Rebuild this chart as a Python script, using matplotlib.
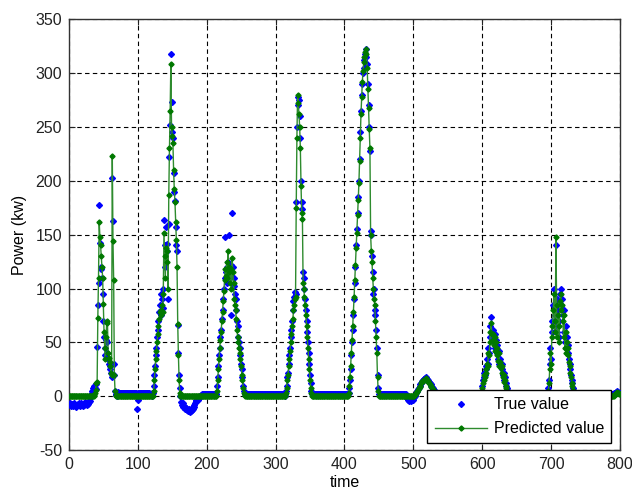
import numpy as np
import matplotlib
matplotlib.use('Agg')
import matplotlib.pyplot as plt

plt.rcParams['font.family'] = ['Liberation Sans', 'DejaVu Sans']
plt.rcParams['axes.unicode_minus'] = False

# 功率真实值与预测值（按时间段拼接，时间步长为1）
true_a = [-6, -8, -9, -7, -8, -9, -6, -7, -8, -9, -10, -8, -7, -6, -8,
          -9, -7, -6, -8, -7, -9, -8, -6, -5, -7, -8, -6, -7, -5, -4]
pred_a = [0] * 30

true_p1 = [-2, 1, 3, 5, 8, 9, 10, 8, 7, 11,
           46, 85, 105, 178, 142, 120, 118, 110, 95, 70,
           55, 45, 38, 52, 40, 50, 35, 30, 28, 25,
           22, 18, 203, 163, 30, 20, 5, 2, 1, 0]
pred_p1 = [0, 0, 0, 0, 0, 0, 1, 3, 6, 12,
           13, 73, 110, 162, 148, 140, 130, 120, 110, 86,
           60, 45, 35, 55, 70, 68, 40, 36, 32, 28,
           22, 20, 223, 144, 108, 20, 5, 1, 0, 0]

true_c = [4, 2] + [3] * 26 + [-12, -3] + [3] * 17 + [2, 2, 3]
pred_c = [0] * 50

true_p2 = [0, 3, 10, 20, 28, 38, 45, 55, 62, 70,
           78, 85, 95, 75, 90, 82, 100, 164, 140, 120,
           157, 135, 141, 90, 160, 222, 252, 318, 273, 245,
           240, 207, 190, 181, 157, 140, 135, 66, 40, 20,
           8, 0, -5, -8, -10]
pred_p2 = [0, 0, 5, 15, 25, 35, 42, 50, 58, 65,
           72, 78, 80, 75, 85, 78, 95, 152, 130, 110,
           138, 125, 135, 100, 187, 230, 265, 308, 250, 242,
           235, 210, 192, 180, 162, 145, 120, 67, 38, 15,
           3, 0, 0, 0, 0]

true_e = [-6, -9, -10, -12, -11, -13, -12, -14, -13, -12,
          -15, -14, -13, -11, -12, -10, -8, -6, -4, -3,
          -3, -2, -3, -2, -1]
pred_e = [0] * 25

true_f = [0, 1] + [2] * 21
pred_f = [0] * 23

true_p3 = [2, 10, 18, 28, 38, 45, 55, 62, 72, 80,
           90, 100, 110, 148, 115, 120, 105, 125, 118, 150,
           112, 122, 75, 170, 120, 110, 102, 95, 90, 80,
           70, 65, 55, 50, 45, 38, 30, 25, 18, 10,
           5, 3, 2, 2, 2]
pred_p3 = [0, 5, 15, 25, 35, 45, 52, 60, 70, 78,
           88, 98, 108, 118, 112, 125, 110, 135, 120, 115,
           105, 118, 100, 128, 115, 105, 90, 85, 80, 72,
           62, 55, 50, 45, 40, 35, 28, 20, 15, 8,
           3, 1, 0, 0, 0]

true_h = [2] * 54
pred_h = [0] * 54

true_p4 = [0, 2, 5, 10, 18, 22, 30, 38, 45, 55,
           62, 70, 80, 88, 92, 97, 95, 180, 250, 278,
           270, 275, 260, 240, 200, 180, 174, 115, 110, 100,
           90, 80, 70, 60, 50, 40, 30, 20, 12, 5,
           2, 2, 2]
pred_p4 = [0, 0, 3, 8, 15, 20, 28, 35, 42, 50,
           58, 65, 72, 80, 85, 90, 92, 175, 240, 280,
           272, 262, 250, 230, 195, 170, 165, 105, 100, 92,
           85, 75, 65, 55, 45, 35, 25, 15, 8, 3,
           0, 0, 0]

true_j = [2] * 49
pred_j = [0] * 49

true_p5 = [2, 3, 8, 15, 25, 38, 50, 62, 75, 90,
           105, 120, 140, 155, 170, 185, 200, 220, 245, 265,
           280, 290, 300, 312, 305, 318, 322, 315, 308, 290,
           270, 250, 228, 153, 150, 130, 115, 95, 100, 80,
           75, 62, 45, 20, 8, 2, 2, 2]
pred_p5 = [0, 3, 10, 18, 28, 40, 52, 65, 78, 92,
           108, 122, 138, 152, 168, 182, 198, 218, 240, 262,
           278, 292, 302, 310, 315, 320, 322, 318, 305, 285,
           268, 248, 230, 150, 135, 125, 110, 100, 90, 85,
           70, 55, 40, 18, 5, 0, 0, 0]

true_l = [2] * 37
pred_l = [0] * 37

true_m = [-1, -2, -3, -3, -4, -3, -4, -3, -2, -3, -2, -1, 0, 1, 3, 5,
          5, 7, 8, 10, 11, 12, 13, 14, 15, 16,
          16, 17, 18, 17, 16, 15, 14, 13, 12, 11,
          10, 9, 8, 7, 6, 5, 4, 3, 2, 2] + [2] * 10
pred_m = [0] * 12 + [1, 2, 3, 4,
          5, 6, 8, 9, 10, 12, 13, 14, 14, 15,
          15, 16, 17, 16, 15, 14, 13, 12, 11, 10,
          9, 8, 7, 6, 5, 4, 3, 2, 1, 0] + [0] * 10

true_n = [2] * 52
pred_n = [0] * 52

true_p6 = [2, 5, 10, 15, 18, 22, 20, 28, 25, 35,
           30, 45, 40, 55, 65, 74, 60, 55, 62, 50,
           58, 45, 52, 40, 48, 35, 42, 30, 35, 28,
           25, 30, 20, 22, 15, 18, 10, 12, 8, 5,
           3, 2, 2, 2, 2]
pred_p6 = [0, 3, 8, 12, 15, 20, 18, 25, 22, 30,
           28, 40, 38, 50, 60, 68, 58, 52, 58, 48,
           55, 42, 50, 38, 45, 33, 40, 28, 32, 26,
           22, 28, 18, 20, 13, 15, 8, 10, 5, 3,
           1, 0, 0, 0, 0]

true_pp = [2] * 52
pred_pp = [0] * 52

true_p7 = [2, 8, 15, 30, 45, 35, 60, 70, 85, 100,
           75, 65, 140, 90, 60, 80, 55, 70, 95, 100,
           85, 90, 75, 60, 80, 50, 65, 45, 55, 40,
           48, 35, 30, 25, 20, 15, 12, 8, 5, 3,
           2, 2, 2, 2, 2, 2]
pred_p7 = [0, 5, 12, 25, 40, 30, 55, 65, 80, 95,
           70, 60, 148, 85, 55, 75, 50, 65, 88, 95,
           80, 85, 70, 55, 75, 45, 60, 40, 50, 38,
           45, 32, 28, 22, 18, 12, 10, 6, 3, 1,
           0, 0, 0, 0, 0, 0]

true_r = [2] * 50 + [2, 3, 3, 4, 4, 5, 4, 3, 3, 3]
pred_r = [0] * 50 + [0, 1, 2, 3, 3, 4, 3, 3, 2, 2]

true_val = np.array(true_a + true_p1 + true_c + true_p2 + true_e + true_f + true_p3 + true_h +
                    true_p4 + true_j + true_p5 + true_l + true_m + true_n + true_p6 + true_pp +
                    true_p7 + true_r, dtype=float)
pred_val = np.array(pred_a + pred_p1 + pred_c + pred_p2 + pred_e + pred_f + pred_p3 + pred_h +
                    pred_p4 + pred_j + pred_p5 + pred_l + pred_m + pred_n + pred_p6 + pred_pp +
                    pred_p7 + pred_r, dtype=float)
time = np.arange(1, len(true_val) + 1)

fig = plt.figure(figsize=(6.32, 4.92), dpi=100)
ax = fig.add_axes([0.109, 0.085, 0.872, 0.876])

ax.plot(time, true_val, linestyle='none', marker='D', markersize=3,
        color='#0000ff', label='True value', zorder=3)
ax.plot(time, pred_val, color='#2e8b2e', linewidth=1.0, marker='D', markersize=2.6,
        markerfacecolor='#007800', markeredgecolor='#007800', label='Predicted value', zorder=4)

ax.set_xlim(0, 800)
ax.set_ylim(-50, 350)
ax.set_xticks(np.arange(0, 801, 100))
ax.set_yticks(np.arange(-50, 351, 50))
ax.grid(True, color='black', linestyle=(0, (4, 3)), linewidth=0.8)
ax.set_axisbelow(True)
ax.tick_params(direction='in', length=4, top=True, right=True, labelsize=11.5, pad=5,
               colors='#222222')
for sp in ax.spines.values():
    sp.set_color('#333333')
    sp.set_linewidth(1.0)

ax.set_xlabel('time', fontsize=11.5, labelpad=2)
ax.set_ylabel('Power (kw)', fontsize=11.5, labelpad=6)

leg = ax.legend(loc='lower right', bbox_to_anchor=(0.984, 0.016), fontsize=11.5,
                fancybox=False, framealpha=1, edgecolor='black', handlelength=3.3,
                borderaxespad=0, handletextpad=0.4, borderpad=0.45, labelspacing=0.55)
leg.get_frame().set_linewidth(1.0)

fig.savefig('out.png', dpi=100)
